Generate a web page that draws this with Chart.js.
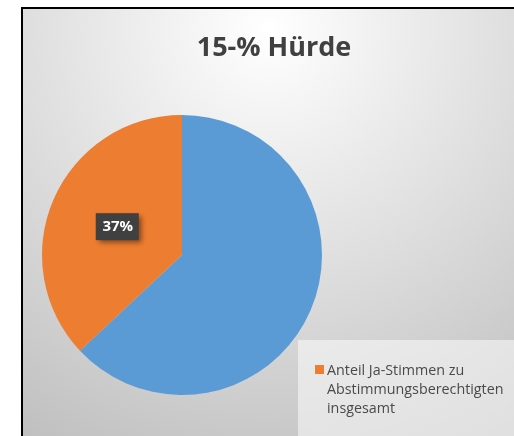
<!DOCTYPE html>
<html>
<head>
<meta charset="utf-8">
<script src="https://cdn.jsdelivr.net/npm/chart.js@4.4.1/dist/chart.umd.min.js"></script>
<style>
  html, body { margin: 0; padding: 0; background: #fff; overflow: hidden; }
  #frame {
    position: absolute; left: 21px; top: 7px;
    width: 491px; height: 427px;
    border-left: 2px solid #000; border-top: 2px solid #000;
  }
  canvas { display: block; }
</style>
</head>
<body>
<div id="frame"><canvas id="myChart" width="491" height="427"></canvas></div>
<script>
// data
const chartTitle = "15-% Hürde";
const categories = ["", "Anteil Ja-Stimmen zu Abstimmungsberechtigten insgesamt"];
const values = [63, 37];
const sliceColors = ["#5B9BD5", "#ED7D31"];
const labelIndex = 1; // only the orange slice carries a label

const FONT = '"Open Sans", "Noto Sans", sans-serif';

const background = {
  id: "background",
  beforeDraw(chart) {
    const { ctx, width, height } = chart;
    const g = ctx.createRadialGradient(width / 2, 20, 0, width / 2, 20, 470);
    g.addColorStop(0, "#ffffff");
    g.addColorStop(1, "#c0c0c0");
    ctx.save();
    ctx.fillStyle = g;
    ctx.fillRect(0, 0, width, height);
    ctx.restore();
  }
};

const titleText = {
  id: "titleText",
  afterDraw(chart) {
    const { ctx } = chart;
    ctx.save();
    ctx.font = "bold 27px " + FONT;
    ctx.fillStyle = "#404040";
    ctx.textAlign = "center";
    ctx.textBaseline = "middle";
    ctx.fillText(chartTitle, 251, 39);
    ctx.restore();
  }
};

const sliceLabel = {
  id: "sliceLabel",
  afterDatasetsDraw(chart) {
    const { ctx } = chart;
    const arc = chart.getDatasetMeta(0).data[labelIndex];
    const pos = arc.tooltipPosition();
    const total = values.reduce((a, b) => a + b, 0);
    const txt = Math.round(values[labelIndex] / total * 100) + "%";
    ctx.save();
    ctx.shadowColor = "rgba(0,0,0,0.45)";
    ctx.shadowBlur = 5;
    ctx.shadowOffsetX = 3;
    ctx.shadowOffsetY = 3;
    ctx.fillStyle = "#404040";
    ctx.fillRect(pos.x - 22, pos.y - 14, 43, 27);
    ctx.shadowColor = "transparent";
    ctx.font = "bold 15px " + FONT;
    ctx.fillStyle = "#ffffff";
    ctx.textAlign = "center";
    ctx.textBaseline = "middle";
    ctx.fillText(txt, pos.x, pos.y);
    ctx.restore();
  }
};

const sideLegend = {
  id: "sideLegend",
  afterDraw(chart) {
    const { ctx, width, height } = chart;
    ctx.save();
    ctx.fillStyle = "rgba(255,255,255,0.5)";
    ctx.fillRect(275, 331, width - 275, height - 331);
    ctx.font = "14.3px " + FONT;
    ctx.textBaseline = "alphabetic";
    let y = 366;
    categories.forEach((label, i) => {
      if (!label) return;
      ctx.fillStyle = sliceColors[i];
      ctx.fillRect(292, y - 10, 9, 9);
      // simple word wrap
      const words = label.split(" ");
      const lines = [];
      let line = "";
      words.forEach((w) => {
        const test = line ? line + " " + w : w;
        if (ctx.measureText(test).width > 185 && line) {
          lines.push(line);
          line = w;
        } else {
          line = test;
        }
      });
      lines.push(line);
      ctx.fillStyle = "#4a4a4a";
      lines.forEach((l) => {
        ctx.fillText(l, 304, y);
        y += 19;
      });
    });
    ctx.restore();
  }
};

const myChart = new Chart(document.getElementById("myChart"), {
  type: "pie",
  plugins: [background, sliceLabel, titleText, sideLegend],
  data: {
    labels: categories,
    datasets: [
      {
        data: values,
        backgroundColor: sliceColors,
        borderWidth: 0,
      },
    ],
  },
  options: {
    responsive: false,
    animation: false,
    layout: {
      padding: { left: 19, top: 106, right: 192, bottom: 41 },
    },
    plugins: {
      legend: { display: false },
      title: { display: false },
      tooltip: { enabled: false },
    },
  },
});
</script>
</body>
</html>
